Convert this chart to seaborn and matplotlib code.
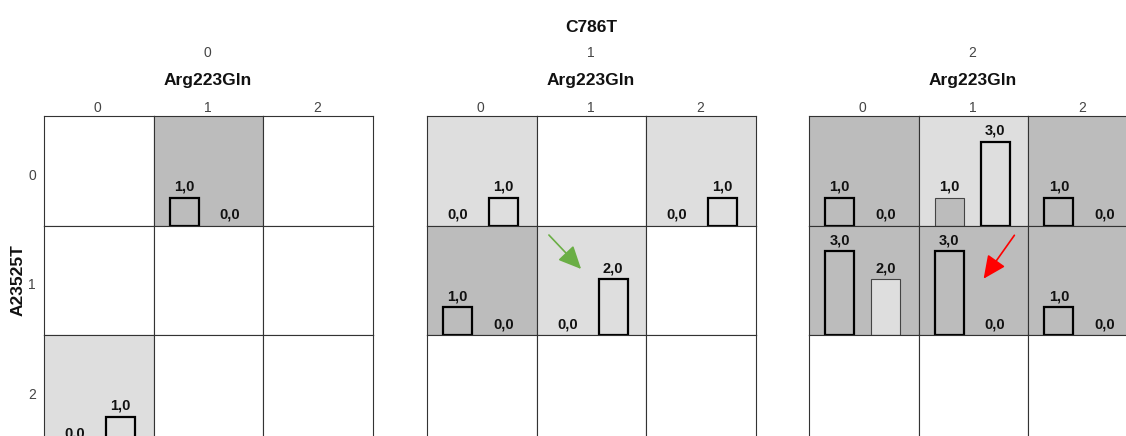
import matplotlib
matplotlib.use("Agg")
import matplotlib.pyplot as plt
import seaborn as sns
import pandas as pd
import numpy as np

# ---------------- data ----------------
c786t_levels = ["0", "1", "2"]          # panels
arg223gln_levels = ["0", "1", "2"]      # columns inside a panel
a23525t_levels = ["0", "1", "2"]        # rows
bar_groups = [1, 2]                     # two bars in every cell

# values[panel][row][col]; None = empty cell
bar1_values = [
    [[None, 1.0, None], [None, None, None], [0.0, None, None]],
    [[0.0, None, 0.0], [1.0, 0.0, None], [None, None, None]],
    [[1.0, 1.0, 1.0], [3.0, 3.0, 1.0], [None, None, None]],
]
bar2_values = [
    [[None, 0.0, None], [None, None, None], [1.0, None, None]],
    [[1.0, None, 1.0], [0.0, 2.0, None], [None, None, None]],
    [[0.0, 3.0, 0.0], [2.0, 0.0, 0.0], [None, None, None]],
]

rows = []
for p, pl in enumerate(c786t_levels):
    for r, rl in enumerate(a23525t_levels):
        for c, cl in enumerate(arg223gln_levels):
            for g, vals in zip(bar_groups, [bar1_values, bar2_values]):
                v = vals[p][r][c]
                if v is not None:
                    rows.append(dict(C786T=pl, A23525T=rl, Arg223Gln=cl, bar=g, value=v))
df = pd.DataFrame(rows)

# ---------------- style ----------------
DARK = "#bcbcbc"
LIGHT = "#dedede"
palette = {1: DARK, 2: LIGHT}
FONT = "Liberation Sans"
plt.rcParams["font.family"] = [FONT, "DejaVu Sans"]

W, H = 1126, 436
fig = plt.figure(figsize=(W / 100, H / 100), dpi=100)

panel_left = [44, 427, 809]
grid_top = 116
cell_w = 109.6
cell_h = 109.6


def px_rect(x, y, w, h):
    return [x / W, (H - y - h) / H, w / W, h / H]


def ftext(x, y, s, **kw):
    fig.text(x / W, (H - y) / H, s, **kw)


for p, pl in enumerate(c786t_levels):
    x0 = panel_left[p]
    for r, rl in enumerate(a23525t_levels):
        for c, cl in enumerate(arg223gln_levels):
            ax = fig.add_axes(px_rect(x0 + c * cell_w, grid_top + r * cell_h, cell_w, cell_h))
            sub = df[(df.C786T == pl) & (df.A23525T == rl) & (df.Arg223Gln == cl)]
            bg = "white"
            if len(sub) == 2:
                a = sub[sub.bar == 1].value.iloc[0]
                b = sub[sub.bar == 2].value.iloc[0]
                bg = DARK if a > b else (LIGHT if b > a else "white")
                sns.barplot(data=sub, x="bar", y="value", hue="bar", order=bar_groups,
                            hue_order=bar_groups, palette=palette, saturation=1,
                            width=0.63, dodge=False, legend=False, ax=ax, errorbar=None)
                win = max(a, b)
                for cont in ax.containers:
                    for patch in cont.patches:
                        h = patch.get_height()
                        if h <= 0:
                            patch.set_linewidth(0)
                        elif h == win:
                            patch.set_edgecolor("black")
                            patch.set_linewidth(1.6)
                        else:
                            patch.set_edgecolor("#444444")
                            patch.set_linewidth(0.8)
                    labels = [f"{pt.get_height():.1f}".replace(".", ",") for pt in cont.patches]
                    ax.bar_label(cont, labels=labels, padding=3, fontsize=10.5,
                                 fontweight="bold", color="#111111")
            ax.set_facecolor(bg)
            ax.set_xlim(-0.67, 1.72)
            ax.set_ylim(0, 3.92)
            ax.set_xticks([])
            ax.set_yticks([])
            ax.set_xlabel("")
            ax.set_ylabel("")
            for s in ax.spines.values():
                s.set_color("#333333")
                s.set_linewidth(0.8)
            if r == 0:
                ftext(x0 + c * cell_w + cell_w / 2 - 1, 112, cl, ha="center", va="baseline",
                      fontsize=10, color="#444444")
    pc = x0 + 1.5 * cell_w
    ftext(pc - 1, 57, pl, ha="center", va="baseline", fontsize=10, color="#444444")
    ftext(pc - 1, 84.5, "Arg223Gln", ha="center", va="baseline", fontsize=12.5,
          fontweight="bold", color="#111111")

for r, rl in enumerate(a23525t_levels):
    ftext(32, grid_top + r * cell_h + cell_h / 2 + 9, rl, ha="center", va="baseline",
          fontsize=10, color="#444444")

ftext(591, 32, "C786T", ha="center", va="baseline", fontsize=12.5, fontweight="bold",
      color="#111111")
fig.text(18 / W, (H - 280) / H, "A23525T", rotation=90, ha="center", va="center",
         fontsize=12.5, fontweight="bold", color="#111111")

# arrows
fig.add_artist(matplotlib.patches.FancyArrowPatch(
    (547, H - 233), (583, H - 271), transform=None,
    arrowstyle="-|>,head_length=14,head_width=6.5", mutation_scale=1,
    color="#6aae45", lw=1.2))
fig.add_artist(matplotlib.patches.FancyArrowPatch(
    (1016, H - 233), (982, H - 281), transform=None,
    arrowstyle="-|>,head_length=14,head_width=6.5", mutation_scale=1,
    color="#ff0000", lw=1.2))

fig.savefig("out.png", dpi=100)
